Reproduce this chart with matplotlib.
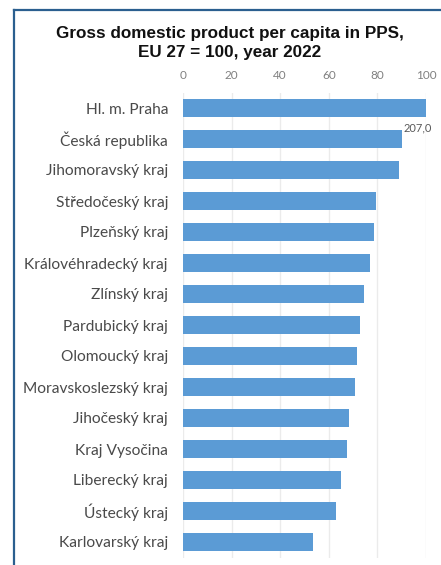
import matplotlib
matplotlib.use("Agg")
import matplotlib.pyplot as plt
from matplotlib.lines import Line2D

regions = ["Hl. m. Praha", "Česká republika", "Jihomoravský kraj", "Středočeský kraj",
           "Plzeňský kraj", "Královéhradecký kraj", "Zlínský kraj", "Pardubický kraj",
           "Olomoucký kraj", "Moravskoslezský kraj", "Jihočeský kraj", "Kraj Vysočina",
           "Liberecký kraj", "Ústecký kraj", "Karlovarský kraj"]
values = [207.0, 90.2, 88.8, 79.3, 78.5, 77.0, 74.4, 72.8, 71.5, 70.9, 68.2, 67.4, 65.0, 62.8, 53.6]
xticks = [0, 20, 40, 60, 80, 100]
title = "Gross domestic product per capita in PPS,\nEU 27 = 100, year 2022"

W, H = 441, 565
fig = plt.figure(figsize=(W / 100, H / 100), dpi=100)
fig.patch.set_facecolor("white")

ax = fig.add_axes([183 / W, 1 - 557.5 / H, (426 - 183) / W, (557.5 - 92.5) / H])
y = list(range(len(regions)))
ax.barh(y, values, height=0.58, color="#5b9bd5", zorder=3)
ax.set_xlim(0, 100)
ax.set_ylim(len(regions) - 0.5, -0.5)
ax.set_yticks(y)
ax.set_yticklabels(regions, fontfamily="Lato", fontsize=11.2, color="#4a4a4a")
ax.set_xticks(xticks)
ax.set_xticklabels([str(t) for t in xticks], fontfamily="Lato", fontsize=8.5, color="#808080")
ax.xaxis.tick_top()
ax.tick_params(axis="both", length=0)
ax.tick_params(axis="y", pad=10.8)
ax.tick_params(axis="x", pad=8)
ax.grid(axis="x", color="#ebebeb", linewidth=1, zorder=0)
for s in ax.spines.values():
    s.set_visible(False)

ax.annotate("207,0", xy=(100, 0), xytext=(-8, -20), textcoords="offset pixels",
            ha="center", va="center", fontfamily="Lato", fontsize=8, color="#595959",
            annotation_clip=False)

fig.text(230 / W, 1 - 43 / H, title, ha="center", va="center", fontfamily="Liberation Sans",
         fontweight="bold", fontsize=12.3, color="#111111", linespacing=1.35)

fig.add_artist(Line2D([14 / W, 14 / W], [0, 1 - 9.5 / H], transform=fig.transFigure,
                      color="#2b5f8f", linewidth=1.6))
fig.add_artist(Line2D([14 / W, 1], [1 - 9.5 / H, 1 - 9.5 / H], transform=fig.transFigure,
                      color="#2b5f8f", linewidth=1.6))

fig.savefig("out.png", dpi=100)
